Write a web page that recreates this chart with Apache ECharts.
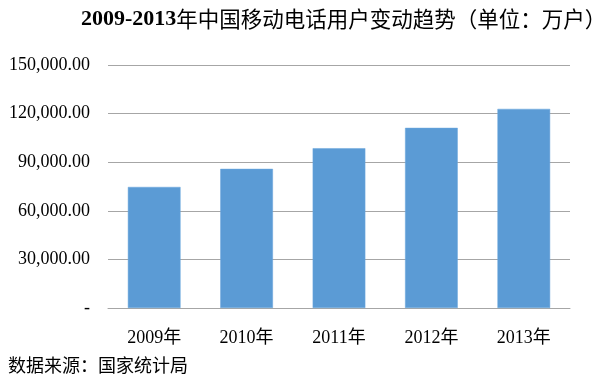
<!DOCTYPE html>
<html><head><meta charset="utf-8">
<script src="https://cdn.jsdelivr.net/npm/echarts@6/dist/echarts.min.js"></script>
<style>html,body{margin:0;padding:0;background:#fff}#c{width:600px;height:375px}</style>
</head><body><div id="c"></div>
<script>
var categories = ['2009年','2010年','2011年','2012年','2013年'];
var users = [74721, 85900, 98625, 111216, 122911];
var yTicks = [0, 30000, 60000, 90000, 120000, 150000];

var chart = echarts.init(document.getElementById('c'), null, {renderer:'canvas'});
function fmt(v){
  if (v === 0) return '-';
  return v.toLocaleString('en-US',{minimumFractionDigits:2, maximumFractionDigits:2});
}
chart.setOption({
  animation:false,
  backgroundColor:'#fff',
  title:[{
    text:'{b|2009-2013}{c|年中国移动电话用户变动趋势（单位：万户）}',
    left:76, top:2,
    textStyle:{rich:{
      b:{fontFamily:'Liberation Serif, serif', fontWeight:'bold', fontSize:22, color:'#000', lineHeight:24},
      c:{fontFamily:'Noto Sans CJK SC', fontWeight:'normal', fontSize:21.5, color:'#000', lineHeight:24}
    }}
  },{
    text:'数据来源：国家统计局',
    left:3, top:351,
    textStyle:{fontFamily:'Noto Sans CJK SC', fontWeight:'normal', fontSize:18, color:'#000'}
  }],
  grid:{left:108, right:30, top:65, bottom:67},
  xAxis:{
    type:'category', data:categories,
    axisLine:{lineStyle:{color:'#a6a6a6', width:1}},
    axisTick:{show:false},
    axisLabel:{fontFamily:'Liberation Serif, Noto Sans CJK SC', fontSize:18, color:'#000', margin:21}
  },
  yAxis:{
    type:'value', min:yTicks[0], max:yTicks[yTicks.length-1], interval:30000,
    axisLine:{show:false}, axisTick:{show:false},
    splitLine:{lineStyle:{color:'#a6a6a6', width:1}},
    axisLabel:{fontFamily:'Liberation Serif, serif', fontSize:18, color:'#000', margin:18, formatter:fmt}
  },
  series:[{
    type:'bar', data:users, barWidth:'57%',
    itemStyle:{color:'#5b9bd5', borderColor:'#6aa6dc', borderWidth:0.5}
  }]
});
</script></body></html>
